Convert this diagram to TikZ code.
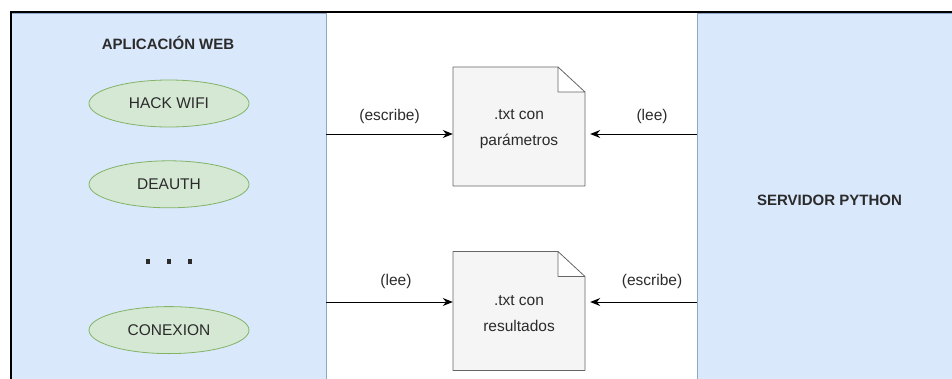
\documentclass[tikz,border=0pt]{standalone}
\usepackage{fontspec}
\setmainfont{Liberation Sans}
\usepackage{tikz}
\usetikzlibrary{arrows.meta,positioning,calc,shapes.geometric}

\definecolor{panelfill}{HTML}{DAE8FC}
\definecolor{paneldraw}{HTML}{8FA6C8}
\definecolor{opfill}{HTML}{D5E8D4}
\definecolor{opdraw}{HTML}{82B366}
\definecolor{docfill}{HTML}{F5F5F5}
\definecolor{docdraw}{HTML}{666666}
\definecolor{ink}{HTML}{2B2B2B}

\begin{document}
\begin{tikzpicture}[x=1pt,y=1pt,>={Stealth[length=10pt,width=8pt]},
                    font=\fontsize{15.5}{26}\selectfont, text=ink]
 \tikzstyle{panel}=[draw=paneldraw, fill=panelfill, line width=0.8pt, inner sep=0pt, minimum height=374pt]
 \tikzstyle{title}=[font=\fontsize{15}{18}\selectfont\bfseries]
 \tikzstyle{op}=[ellipse, draw=opdraw, fill=opfill, line width=0.8pt, inner sep=0pt, minimum width=160pt, minimum height=47pt]
 \tikzstyle{note}=[draw=docdraw, fill=docfill, line width=0.8pt, line join=round]
 \tikzstyle{doc}=[inner sep=0pt, minimum width=132pt, minimum height=119pt, align=center]
 \tikzstyle{flow}=[->, draw=black, line width=1pt]
 \tikzstyle{lbl}=[above=#1, fill=none]
 \useasboundingbox (0,0) rectangle (952,-378);
 \clip (0,0) rectangle (952,-378);

 % the two sides
 \node[panel, minimum width=316pt] (web) at (168,-200) {};
 \node[panel, minimum width=265pt, title] (srv) at (829.5,-200) {SERVIDOR PYTHON};
 \node[title] (webtitle) at (168,-43) {APLICACIÓN WEB};

 % operations of the web app
 \node[op] (hack) at (169,-103.5) {HACK WIFI};
 \node[op] (deauth) [below=33pt of hack] {DEAUTH};
 \coordinate[below=77pt of deauth.center] (more);
 \foreach \dx in {-21,0,21}
   \fill[ink] ($(more)+(\dx,0)$) +(-2.2,-2.2) rectangle +(2.2,2.2);
 \node[op] (conexion) [below=98pt of deauth] {CONEXION};

 % shared text files (sheet with folded corner)
 \coordinate (parC) at (519,-126.5);
 \coordinate (resC) at (519,-311);
 \foreach \c in {parC,resC}
   \filldraw[note] ($(\c)+(-66,59.5)$) -- ($(\c)+(39,59.5)$) -- ($(\c)+(66,34.5)$)
        -- ($(\c)+(66,-59.5)$) -- ($(\c)+(-66,-59.5)$) -- cycle
        ($(\c)+(39,59.5)$) -- ($(\c)+(39,34.5)$) -- ($(\c)+(66,34.5)$);
 \node[doc, yshift=-3pt] (par) at (parC) {.txt con\\parámetros};
 \node[doc, yshift=-3pt] (res) at (resC) {.txt con\\resultados};

 \coordinate (parPort) at ($(par.west)+(0,-4.5)$);
 \coordinate (resPort) at ($(res.west)+(0,12)$);
 \draw[flow] (web.east |- parPort) -- node[lbl=6.5pt] {(escribe)} (parPort);
 \draw[flow, shorten >=5pt] (srv.west |- parPort) -- node[lbl=6.5pt, pos=0.4] {(lee)} (par.east |- parPort);
 \draw[flow] (web.east |- resPort) -- node[lbl=9.5pt, pos=0.55] {(lee)} (resPort);
 \draw[flow, shorten >=5pt] (srv.west |- resPort) -- node[lbl=9.5pt, pos=0.4] {(escribe)} (res.east |- resPort);

 % window edge
 \draw[black, line width=2pt] (11,-380) -- (11,-12) -- (954,-12);
\end{tikzpicture}
\end{document}
